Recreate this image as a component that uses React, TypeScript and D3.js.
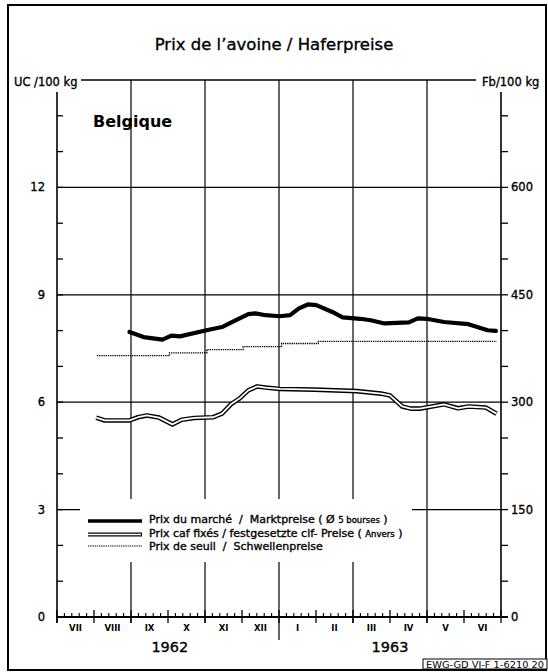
import * as d3 from 'd3';
import React from 'react';

// months counted from 1 July 1962 (0) to 30 June 1963 (12)
const monthLabels = ['VII', 'VIII', 'IX', 'X', 'XI', 'XII', 'I', 'II', 'III', 'IV', 'V', 'VI'];
const yearLabels = ['1962', '1963'];
const yearCenters = [3.05, 9.0];

// Prix du marché (UC/100 kg)
const marketMonths = [1.96, 2.34, 2.85, 3.09, 3.32, 4.04, 4.46, 4.70, 5.17, 5.36, 5.64, 6.02, 6.30, 6.54, 6.78, 7.01, 7.44, 7.72, 8.19, 8.48, 8.85, 9.51, 9.75, 9.99, 10.46, 11.12, 11.64, 11.86];
const marketValues = [7.96, 7.82, 7.75, 7.86, 7.84, 8.01, 8.10, 8.22, 8.46, 8.48, 8.43, 8.40, 8.43, 8.62, 8.73, 8.71, 8.52, 8.37, 8.33, 8.29, 8.20, 8.23, 8.34, 8.33, 8.24, 8.18, 8.01, 7.99];

// Prix caf fixés (Anvers)
const cifMonths = [1.06, 1.29, 1.96, 2.19, 2.43, 2.76, 3.12, 3.37, 3.71, 4.22, 4.46, 4.70, 4.93, 5.17, 5.41, 5.64, 6.02, 6.96, 8.10, 8.76, 9.00, 9.33, 9.56, 9.80, 10.46, 10.84, 11.12, 11.59, 11.88];
const cifValues = [5.57, 5.49, 5.49, 5.58, 5.63, 5.57, 5.38, 5.51, 5.56, 5.58, 5.68, 5.94, 6.10, 6.33, 6.44, 6.41, 6.37, 6.35, 6.31, 6.24, 6.19, 5.88, 5.82, 5.82, 5.94, 5.83, 5.88, 5.85, 5.68];

// Prix de seuil (steps)
const thresholdMonths = [1.08, 3.04, 4.05, 5.03, 6.07, 7.06, 11.88];
const thresholdValues = [7.30, 7.38, 7.47, 7.55, 7.64, 7.70, 7.70];

const ucTicks = d3.range(0, 15, 1);
const ucLabels = [0, 3, 6, 9, 12];
const gridUC = [3, 6, 9, 12];
const gridMonths = [2, 4, 6, 8, 10];
const fbPerUc = 50;

const W = 548;
const H = 672;
const FONT = '"DejaVu Sans", "Liberation Sans", sans-serif';
// a little outline makes the text as heavy as the printed lettering
const heavy = { stroke: '#000', strokeWidth: 0.35, whiteSpace: 'pre' as const };

export default function App() {
  const x = d3.scaleLinear().domain([0, 12]).range([57, 501]);
  const y = d3.scaleLinear().domain([0, 15]).range([617, 80]);

  const line = d3.line<[number, number]>()
    .x(d => x(d[0]))
    .y(d => y(d[1]));
  const stepLine = d3.line<[number, number]>()
    .x(d => x(d[0]))
    .y(d => y(d[1]))
    .curve(d3.curveStepAfter);

  const market = marketMonths.map((m, i) => [m, marketValues[i]] as [number, number]);
  const cif = cifMonths.map((m, i) => [m, cifValues[i]] as [number, number]);
  const threshold = thresholdMonths.map((m, i) => [m, thresholdValues[i]] as [number, number]);

  const base = y(0);
  const top = y(15);
  const axisTop = top + 12;
  const weekTicks = d3.range(0, 12).flatMap(m => [0.2, 0.4, 0.6, 0.8].map(f => m + f));
  const monthTicks = d3.range(0, 13);

  return (
    <svg width={W} height={H} style={{ position: 'absolute', left: 0, top: 0, background: '#fff' }}
      fontFamily={FONT}>
      <rect x={0} y={0} width={W} height={H} fill="#fff" />
      {/* frame */}
      <rect x={8} y={5} width={538} height={665} fill="none" stroke="#000" strokeWidth={2} />

      <text x={274} y={50} textAnchor="middle" fontSize={16.5} style={heavy}>Prix de l’avoine / Haferpreise</text>

      {/* units */}
      <text x={14} y={86} fontSize={11.5} style={heavy}>UC /100 kg</text>
      <text x={482} y={86} fontSize={11.5} style={heavy}>Fb/100 kg</text>
      <line x1={81} x2={476} y1={top} y2={top} stroke="#000" strokeWidth={1.3} />

      {/* grid */}
      {gridUC.map(v => (
        <line key={'g' + v} x1={x(0)} x2={x(12)} y1={y(v)} y2={y(v)} stroke="#000" strokeWidth={1.2} />
      ))}
      {gridMonths.map(m => (
        <line key={'v' + m} x1={x(m)} x2={x(m)} y1={top} y2={m === 6 ? 640 : base + 6} stroke="#000" strokeWidth={1.2} />
      ))}

      {/* axes */}
      <line x1={x(0)} x2={x(0)} y1={axisTop} y2={base + 6} stroke="#000" strokeWidth={1.6} />
      <line x1={x(12)} x2={x(12)} y1={axisTop} y2={base} stroke="#000" strokeWidth={1.6} />
      <line x1={x(0)} x2={x(12) + 7} y1={base} y2={base} stroke="#000" strokeWidth={1.8} />
      {ucTicks.filter(v => v > 0).map(v => (
        <g key={'t' + v}>
          <line x1={x(0)} x2={x(0) + 6} y1={y(v)} y2={y(v)} stroke="#000" strokeWidth={1.3} />
          <line x1={x(12)} x2={x(12) + 7} y1={y(v)} y2={y(v)} stroke="#000" strokeWidth={1.3} />
        </g>
      ))}
      {ucLabels.map(v => (
        <g key={'l' + v}>
          <text x={45} y={y(v) + 4} textAnchor="end" fontSize={11.5} style={heavy}>{v}</text>
          <text x={511} y={y(v) + 4} fontSize={11.5} style={heavy}>{v * fbPerUc}</text>
        </g>
      ))}
      {weekTicks.map((m, i) => (
        <line key={'w' + i} x1={x(m)} x2={x(m)} y1={base - 4} y2={base} stroke="#000" strokeWidth={1.1} />
      ))}
      {monthTicks.map(m => (
        <line key={'m' + m} x1={x(m)} x2={x(m)} y1={base - 7} y2={base + 6} stroke="#000" strokeWidth={1.3} />
      ))}
      {monthLabels.map((lab, i) => (
        <text key={lab} x={x(i + 0.5)} y={631} textAnchor="middle" fontSize={8.5} fontWeight="bold">{lab}</text>
      ))}
      {yearLabels.map((lab, i) => (
        <text key={lab} x={x(yearCenters[i])} y={652} textAnchor="middle" fontSize={14.5} style={heavy}>{lab}</text>
      ))}

      <text x={93} y={127} fontSize={16} fontWeight="bold">Belgique</text>

      {/* series */}
      <path d={stepLine(threshold) || ''} fill="none" stroke="#000" strokeWidth={1.3} strokeDasharray="1.3,0.9" />
      <path d={line(cif) || ''} fill="none" stroke="#000" strokeWidth={4.6} strokeLinejoin="round" />
      <path d={line(cif) || ''} fill="none" stroke="#fff" strokeWidth={1.8} strokeLinejoin="round" />
      <path d={line(market) || ''} fill="none" stroke="#000" strokeWidth={4.2} strokeLinejoin="round" strokeLinecap="round" />

      {/* legend */}
      <rect x={80} y={499} width={332} height={63} fill="#fff" />
      <line x1={88} x2={142} y1={521} y2={521} stroke="#000" strokeWidth={3.4} />
      <line x1={88} x2={142} y1={534.5} y2={534.5} stroke="#000" strokeWidth={4} />
      <line x1={88} x2={141} y1={534.5} y2={534.5} stroke="#fff" strokeWidth={1.6} />
      <line x1={88} x2={142} y1={546} y2={546} stroke="#000" strokeWidth={1.2} strokeDasharray="1.3,0.9" />
      <text x={149} y={523} fontSize={11} style={heavy}>
        {'Prix du marché  /  Marktpreise ( Ø '}<tspan fontSize={8.5}>5 bourses</tspan>{' )'}
      </text>
      <text x={149} y={537} fontSize={11} style={heavy}>
        {'Prix caf fixés / festgesetzte cif- Preise ( '}<tspan fontSize={8.5}>Anvers</tspan>{' )'}
      </text>
      <text x={149} y={549.5} fontSize={11} style={heavy}>{'Prix de seuil  /  Schwellenpreise'}</text>

      {/* stamp */}
      <rect x={423} y={659} width={124} height={10} fill="#fff" stroke="#000" strokeWidth={1} />
      <text x={426} y={667.5} fontSize={8.5} textLength={118} lengthAdjust="spacingAndGlyphs">EWG-GD VI-F 1-6210 20</text>
    </svg>
  );
}
